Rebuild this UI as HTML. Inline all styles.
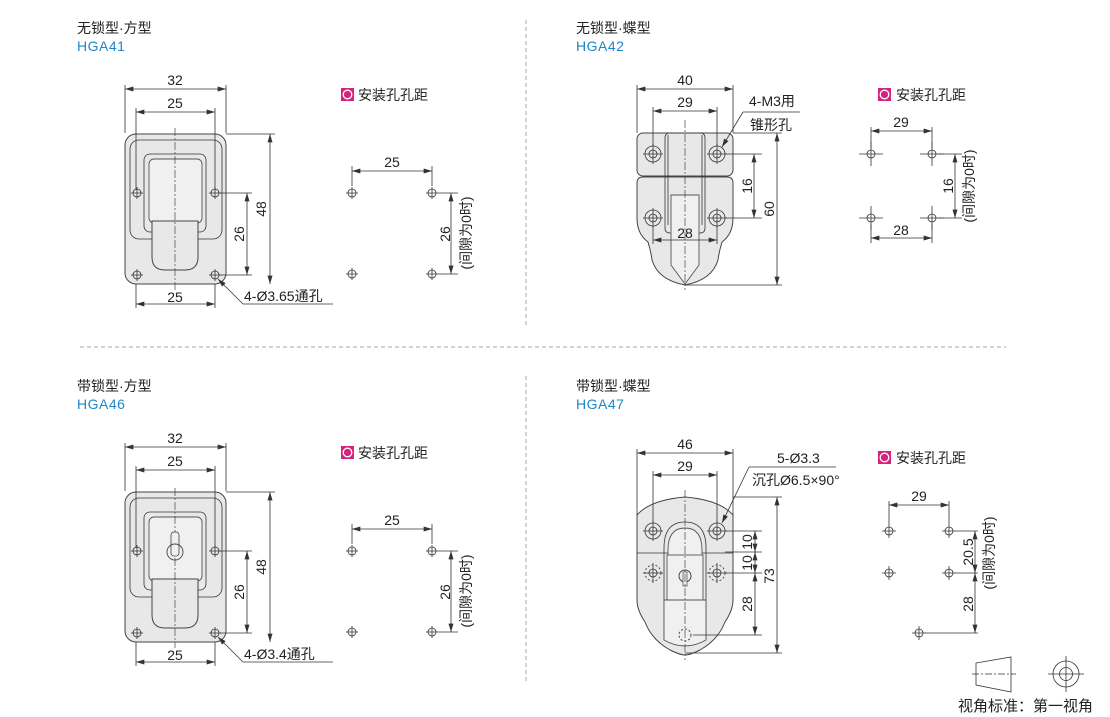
<!DOCTYPE html><html><head><meta charset="utf-8"><style>
body{margin:0;background:#fff}
svg{display:block}
text{font-family:"Liberation Sans","Noto Sans CJK SC",sans-serif;fill:#222}
.t{font-size:14px}
.h{font-size:14px;fill:#1f86c6;letter-spacing:0.5px}
.d{font-size:14px}
.ln{stroke:#333;stroke-width:0.8;fill:none}
.bd{stroke:#444;stroke-width:1;fill:#e8e8e8}
.in{stroke:#555;stroke-width:0.9;fill:#f0f0f0}
.cl{stroke:#444;stroke-width:0.7;stroke-dasharray:8,2,2,2;fill:none}
.sep{stroke:#aaa;stroke-width:1;stroke-dasharray:4,3}
</style></head><body>
<svg width="1110" height="717" viewBox="0 0 1110 717" xmlns="http://www.w3.org/2000/svg">
<defs>
<marker id="a" viewBox="0 0 10 6" refX="10" refY="3" markerWidth="9" markerHeight="5" markerUnits="userSpaceOnUse" orient="auto-start-reverse"><path d="M0,0L10,3L0,6z" fill="#333"/></marker>
<g id="cross"><circle r="4" fill="none" stroke="#333" stroke-width="0.8"/><path d="M-6,0H6M0,-6V6" stroke="#333" stroke-width="0.8"/></g>
<g id="mk"><rect x="0" y="0" width="13" height="13" fill="#d6247e"/><circle cx="6.5" cy="6.5" r="4.3" fill="none" stroke="#fff" stroke-width="1.3"/></g>
</defs>
<line class="sep" x1="526" y1="20" x2="526" y2="328"/>
<line class="sep" x1="526" y1="376" x2="526" y2="682"/>
<line class="sep" x1="80" y1="347" x2="1006" y2="347"/>

<g id="sq">
<rect class="bd" x="125" y="134" width="101" height="150" rx="11"/>
<rect class="ln" x="130" y="140" width="92" height="99" rx="9"/>
<rect class="ln" x="144" y="154" width="62" height="78" rx="6"/>
<rect class="in" x="149" y="159" width="53" height="64" rx="5"/>
<path class="bd" d="M152,221H198V257Q198,270 185,270H165Q152,270 152,257Z"/>
<use href="#cross" x="137" y="193"/><use href="#cross" x="215" y="193"/>
<use href="#cross" x="137" y="275"/><use href="#cross" x="215" y="275"/>
<path class="ln" d="M125,133V85M226,133V85M136,190V108M215,190V108M136,284V308M215,284V308"/>
<line class="ln" x1="125" y1="89" x2="226" y2="89" marker-start="url(#a)" marker-end="url(#a)"/>
<line class="ln" x1="136" y1="112" x2="215" y2="112" marker-start="url(#a)" marker-end="url(#a)"/>
<line class="ln" x1="136" y1="304" x2="215" y2="304" marker-start="url(#a)" marker-end="url(#a)"/>
<path class="ln" d="M226,134H275M220,193H252M220,275H252"/>
<line class="ln" x1="270" y1="134" x2="270" y2="284" marker-start="url(#a)" marker-end="url(#a)"/>
<line class="ln" x1="247" y1="193" x2="247" y2="275" marker-start="url(#a)" marker-end="url(#a)"/>
<text class="d" x="175" y="85" text-anchor="middle">32</text>
<text class="d" x="175" y="108" text-anchor="middle">25</text>
<text class="d" x="175" y="302" text-anchor="middle">25</text>
<text class="d" transform="translate(266,209) rotate(-90)" text-anchor="middle">48</text>
<text class="d" transform="translate(244,234) rotate(-90)" text-anchor="middle">26</text>
<line class="ln" x1="218" y1="279" x2="243" y2="304" marker-start="url(#a)"/>
<line class="ln" x1="243" y1="304" x2="333" y2="304"/>
<use href="#mk" x="341" y="88"/>
<text class="t" x="358" y="100">安装孔孔距</text>
<use href="#cross" x="352" y="193"/><use href="#cross" x="432" y="193"/>
<use href="#cross" x="352" y="274"/><use href="#cross" x="432" y="274"/>
<path class="ln" d="M352,166V186M432,166V186M438,193H458M438,274H458"/>
<line class="ln" x1="352" y1="171" x2="432" y2="171" marker-start="url(#a)" marker-end="url(#a)"/>
<line class="ln" x1="451" y1="193" x2="451" y2="274" marker-start="url(#a)" marker-end="url(#a)"/>
<text class="d" x="392" y="167" text-anchor="middle">25</text>
<text class="d" transform="translate(450,234) rotate(-90)" text-anchor="middle">26</text>
<text class="t" transform="translate(471,233) rotate(-90)" text-anchor="middle">(间隙为0时)</text>
</g>
<line class="cl" x1="175" y1="128" x2="175" y2="290"/>
<text class="t" x="77" y="33">无锁型·方型</text>
<text class="h" x="77" y="51">HGA41</text>
<text class="d" x="244" y="301">4-Ø3.65通孔</text>

<use href="#sq" x="0" y="358"/>
<line class="cl" x1="175" y1="488" x2="175" y2="648"/>
<rect x="171" y="532" width="8" height="24" rx="3" fill="#f0f0f0" stroke="#444" stroke-width="0.8"/>
<circle cx="175" cy="552" r="8" fill="none" stroke="#444" stroke-width="0.9"/>
<text class="t" x="77" y="391">带锁型·方型</text>
<text class="h" x="77" y="409">HGA46</text>
<text class="d" x="244" y="659">4-Ø3.4通孔</text>

<!-- HGA42 -->
<text class="t" x="576" y="33">无锁型·蝶型</text>
<text class="h" x="576" y="51">HGA42</text>
<rect class="bd" x="637" y="133" width="96" height="43" rx="6"/>
<path class="bd" d="M643,177H727Q733,177 733,183V218Q733,234 722,242Q719,252 718,260Q712,280 685,285Q658,280 652,260Q651,252 648,242Q637,234 637,218V183Q637,177 643,177Z"/>
<path class="ln" d="M665,228V138Q665,133 670,133H700Q705,133 705,138V228Q705,233 700,233H670Q665,233 665,228Z"/>
<path class="ln" d="M668,135V225M702,135V225"/>
<path class="in" d="M671,195H699V265L685,284L671,265Z"/>
<g fill="none" stroke="#333" stroke-width="0.8">
<circle cx="653" cy="154" r="8"/><circle cx="653" cy="154" r="4"/>
<circle cx="717" cy="154" r="8"/><circle cx="717" cy="154" r="4"/>
<circle cx="653" cy="218" r="8"/><circle cx="653" cy="218" r="4"/>
<circle cx="717" cy="218" r="8"/><circle cx="717" cy="218" r="4"/>
<path d="M643,154H663M653,144V164M707,154H727M717,144V164M643,218H663M653,208V228M707,218H727M717,208V228"/>
</g>
<line class="cl" x1="685" y1="120" x2="685" y2="290"/>
<path class="ln" d="M637,133V85M733,133V85M653,146V107M717,146V107M653,226V244M717,226V244M733,133H782M685,285H782M725,154H762M725,218H762"/>
<line class="ln" x1="637" y1="89" x2="733" y2="89" marker-start="url(#a)" marker-end="url(#a)"/>
<line class="ln" x1="653" y1="111" x2="717" y2="111" marker-start="url(#a)" marker-end="url(#a)"/>
<line class="ln" x1="653" y1="240" x2="717" y2="240" marker-start="url(#a)" marker-end="url(#a)"/>
<line class="ln" x1="754" y1="154" x2="754" y2="218" marker-start="url(#a)" marker-end="url(#a)"/>
<line class="ln" x1="777" y1="133" x2="777" y2="285" marker-start="url(#a)" marker-end="url(#a)"/>
<text class="d" x="685" y="85" text-anchor="middle">40</text>
<text class="d" x="685" y="107" text-anchor="middle">29</text>
<text class="d" x="685" y="238" text-anchor="middle">28</text>
<text class="d" transform="translate(752,186) rotate(-90)" text-anchor="middle">16</text>
<text class="d" transform="translate(774,209) rotate(-90)" text-anchor="middle">60</text>
<text class="d" x="749" y="106">4-M3用</text>
<line class="ln" x1="743" y1="112" x2="800" y2="112"/>
<line class="ln" x1="743" y1="112" x2="722" y2="147" marker-end="url(#a)"/>
<text class="t" x="750" y="130">锥形孔</text>
<use href="#mk" x="878" y="88"/>
<text class="t" x="896" y="100">安装孔孔距</text>
<g fill="none" stroke="#333" stroke-width="0.8">
<circle cx="871" cy="154" r="4"/><circle cx="932" cy="154" r="4"/><circle cx="871" cy="218" r="4"/><circle cx="932" cy="218" r="4"/>
<path d="M859,154H883M871,142V166M920,154H944M932,142V166M859,218H883M871,206V230M920,218H944M932,206V230"/>
</g>
<path class="ln" d="M871,127V148M932,127V148M871,224V243M932,224V243M938,154H962M938,218H962"/>
<line class="ln" x1="871" y1="131" x2="932" y2="131" marker-start="url(#a)" marker-end="url(#a)"/>
<line class="ln" x1="871" y1="238" x2="932" y2="238" marker-start="url(#a)" marker-end="url(#a)"/>
<line class="ln" x1="955" y1="154" x2="955" y2="218" marker-start="url(#a)" marker-end="url(#a)"/>
<text class="d" x="901" y="127" text-anchor="middle">29</text>
<text class="d" x="901" y="235" text-anchor="middle">28</text>
<text class="d" transform="translate(953,186) rotate(-90)" text-anchor="middle">16</text>
<text class="t" transform="translate(974,186) rotate(-90)" text-anchor="middle">(间隙为0时)</text>

<!-- HGA47 -->
<text class="t" x="576" y="391">带锁型·蝶型</text>
<text class="h" x="576" y="409">HGA47</text>
<path class="bd" d="M637,515Q650,500 685,497Q720,500 733,515V600Q733,610 725,622Q718,640 700,650Q690,655 685,655Q680,655 670,650Q652,640 645,622Q637,610 637,600Z"/>
<line class="ln" x1="637" y1="553" x2="733" y2="553"/>
<path class="ln" d="M664,640V548Q664,522 685,522Q706,522 706,548V640"/>
<path class="in" d="M668,640V550Q668,528 685,528Q702,528 702,550V600H668"/>
<rect class="in" x="667" y="555" width="36" height="45"/>
<path class="in" d="M664,600H706V640Q685,652 664,640Z"/>
<circle cx="685" cy="576" r="6" fill="none" stroke="#444"/><rect x="683" y="572" width="4" height="14" fill="#f0f0f0" stroke="#444" stroke-width="0.7"/>
<circle cx="685" cy="635" r="6" fill="none" stroke="#444" stroke-dasharray="2,2"/>
<g fill="none" stroke="#333" stroke-width="0.8">
<circle cx="653" cy="531" r="8"/><circle cx="653" cy="531" r="4"/>
<circle cx="717" cy="531" r="8"/><circle cx="717" cy="531" r="4"/>
<circle cx="653" cy="573" r="8" stroke-dasharray="2,2"/><circle cx="653" cy="573" r="4"/>
<circle cx="717" cy="573" r="8" stroke-dasharray="2,2"/><circle cx="717" cy="573" r="4"/>
<path d="M643,531H663M653,521V541M707,531H727M717,521V541M643,573H663M653,563V583M707,573H727M717,563V583"/>
</g>
<line class="cl" x1="685" y1="490" x2="685" y2="660"/>
<path class="ln" d="M637,515V449M733,515V449M653,523V471M717,523V471M733,497H782M685,653H782M725,531H762M725,552H762M725,573H762M693,635H762"/>
<line class="ln" x1="637" y1="453" x2="733" y2="453" marker-start="url(#a)" marker-end="url(#a)"/>
<line class="ln" x1="653" y1="475" x2="717" y2="475" marker-start="url(#a)" marker-end="url(#a)"/>
<line class="ln" x1="755" y1="531" x2="755" y2="552" marker-start="url(#a)" marker-end="url(#a)"/>
<line class="ln" x1="755" y1="552" x2="755" y2="573" marker-start="url(#a)" marker-end="url(#a)"/>
<line class="ln" x1="755" y1="573" x2="755" y2="635" marker-start="url(#a)" marker-end="url(#a)"/>
<line class="ln" x1="777" y1="497" x2="777" y2="653" marker-start="url(#a)" marker-end="url(#a)"/>
<text class="d" x="685" y="449" text-anchor="middle">46</text>
<text class="d" x="685" y="471" text-anchor="middle">29</text>
<text class="d" transform="translate(752,542) rotate(-90)" text-anchor="middle">10</text>
<text class="d" transform="translate(752,563) rotate(-90)" text-anchor="middle">10</text>
<text class="d" transform="translate(752,604) rotate(-90)" text-anchor="middle">28</text>
<text class="d" transform="translate(774,576) rotate(-90)" text-anchor="middle">73</text>
<text class="d" x="777" y="463">5-Ø3.3</text>
<line class="ln" x1="749" y1="467" x2="836" y2="467"/>
<line class="ln" x1="749" y1="467" x2="722" y2="523" marker-end="url(#a)"/>
<text class="d" x="752" y="485">沉孔Ø6.5×90°</text>
<use href="#mk" x="878" y="451"/>
<text class="t" x="896" y="463">安装孔孔距</text>
<g fill="none" stroke="#333" stroke-width="0.8">
<circle cx="889" cy="531" r="4"/><circle cx="949" cy="531" r="4"/><circle cx="889" cy="573" r="4"/><circle cx="949" cy="573" r="4"/><circle cx="919" cy="633" r="4"/>
<path d="M882,531H896M889,524V538M942,531H956M949,524V538M882,573H896M889,566V580M942,573H956M949,566V580M912,633H926M919,626V640"/>
</g>
<path class="ln" d="M889,501V524M949,501V524M955,531H978M955,573H978M925,633H978"/>
<line class="ln" x1="889" y1="505" x2="949" y2="505" marker-start="url(#a)" marker-end="url(#a)"/>
<line class="ln" x1="975" y1="531" x2="975" y2="573" marker-start="url(#a)" marker-end="url(#a)"/>
<line class="ln" x1="975" y1="573" x2="975" y2="633" marker-start="url(#a)" marker-end="url(#a)"/>
<text class="d" x="919" y="501" text-anchor="middle">29</text>
<text class="d" transform="translate(973,552) rotate(-90)" text-anchor="middle">20.5</text>
<text class="d" transform="translate(973,604) rotate(-90)" text-anchor="middle">28</text>
<text class="t" transform="translate(994,553) rotate(-90)" text-anchor="middle">(间隙为0时)</text>

<path class="ln" d="M976,663L1011,657V692L976,685Z"/>
<line x1="972" y1="674" x2="1016" y2="674" stroke="#333" stroke-width="0.8" stroke-dasharray="7,2,2,2"/>
<circle cx="1066" cy="674" r="13" class="ln"/><circle cx="1066" cy="674" r="6.5" class="ln"/>
<path class="ln" d="M1048,674H1084M1066,656V692"/>
<text x="958" y="711" style="font-size:15px">视角标准：第一视角</text>
</svg>
</body></html>
